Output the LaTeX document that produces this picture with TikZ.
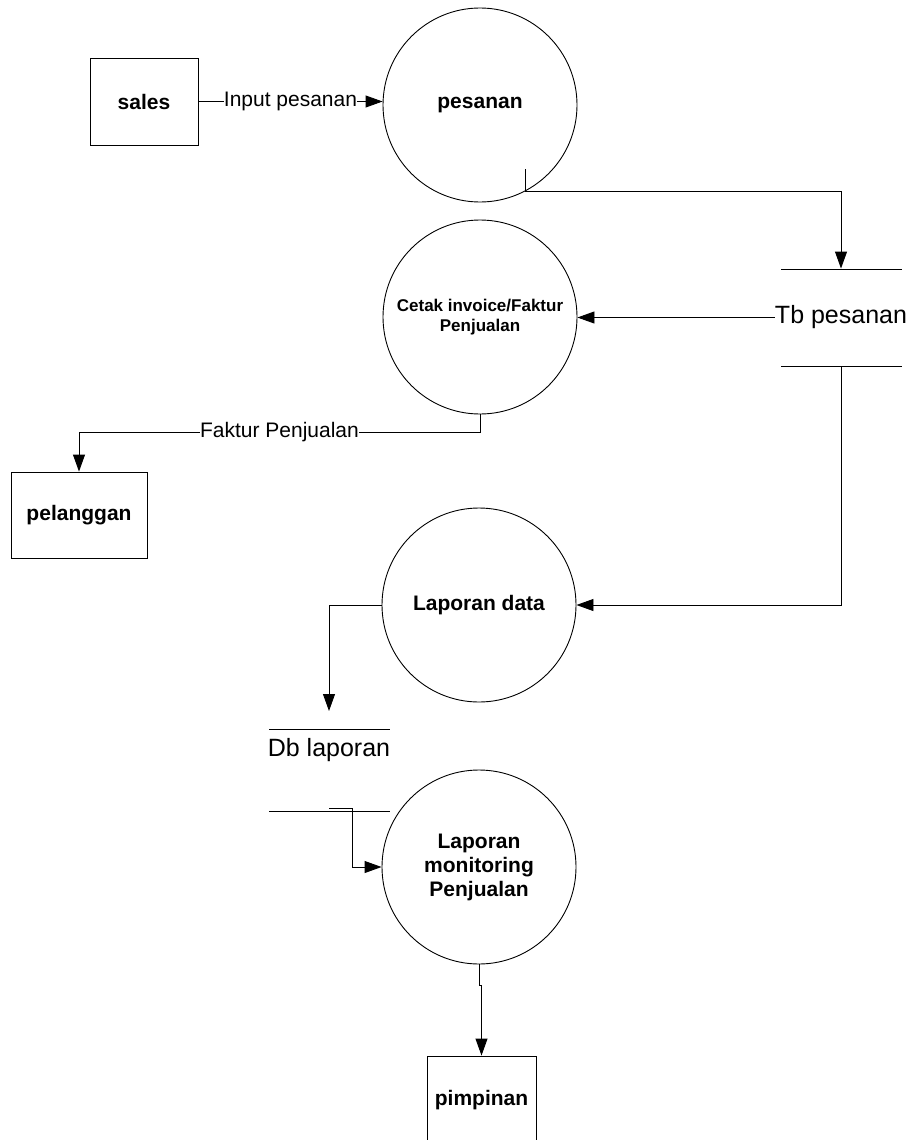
\documentclass[tikz,border=0pt]{standalone}
\usepackage{fontspec}
\setmainfont{Liberation Sans}
\usetikzlibrary{arrows.meta}
\begin{document}
\begin{tikzpicture}[x=1pt, y=-1pt, line width=0.9pt]
  \useasboundingbox (0,0) rectangle (913,1140);

  \tikzstyle{proc}=[circle, draw, minimum size=194pt, inner sep=0pt, align=center, font=\fontsize{21}{24}\selectfont\bfseries]
  \tikzstyle{ent}=[rectangle, draw, inner sep=0pt, font=\fontsize{21}{24}\selectfont\bfseries]
  \tikzstyle{store}=[inner sep=0pt, font=\fontsize{25}{30}\selectfont]
  \tikzstyle{flow}=[-{Triangle[length=17pt, width=12pt]}]
  \tikzstyle{lbl}=[fill=white, inner sep=0pt, font=\fontsize{21}{24}\selectfont]

  \node[ent, minimum width=108pt, minimum height=87pt] (sales) at (144,101.5) {sales};
  \node[ent, minimum width=136pt, minimum height=86pt] (pelanggan) at (79,515) {pelanggan};
  \node[ent, minimum width=109pt, minimum height=88pt] (pimpinan) at (481.5,1100) {pimpinan};

  \node[proc] (pesanan) at (480,105) {pesanan};
  \node[proc, font=\fontsize{17}{20}\selectfont\bfseries] (cetak) at (480,317) {Cetak invoice/Faktur\\Penjualan};
  \node[proc] (lapdata) at (479,605) {Laporan data};
  \node[proc] (monitor) at (479,867) {Laporan\\monitoring\\Penjualan};

  \node[store, minimum height=97pt] (tb) at (841,317.5) {Tb pesanan};
  \draw (781,269) -- (902,269);
  \draw (781,366) -- (902,366);

  \node[store] (db) at (329,750) {Db laporan};
  \draw (269,729) -- (390,729);
  \draw (269,811) -- (390,811);
  \coordinate (dbin) at (329,711);
  \coordinate (dbout) at (329,808);

  \draw[flow] (sales.east) -- node[lbl] {Input pesanan} (sales -| pesanan.west);
  \draw[flow] ([yshift=22pt]pesanan.-62) -- (pesanan.-62) -| (tb.north);
  \draw[flow] (tb.west) -- (tb.west -| cetak.east);
  \draw[flow] (cetak.south) -- ++(0,18) -| node[lbl, pos=0.25] {Faktur Penjualan} (pelanggan.north);
  \draw[flow] (tb.south) |- (lapdata.east);
  \draw[flow] (lapdata.west) -| (dbin);
  \draw[flow] (dbout) -- ++(23,0) |- (monitor.west);
  \draw[flow] (monitor.south) -- ++(0,21) -| (pimpinan.north);
\end{tikzpicture}
\end{document}
